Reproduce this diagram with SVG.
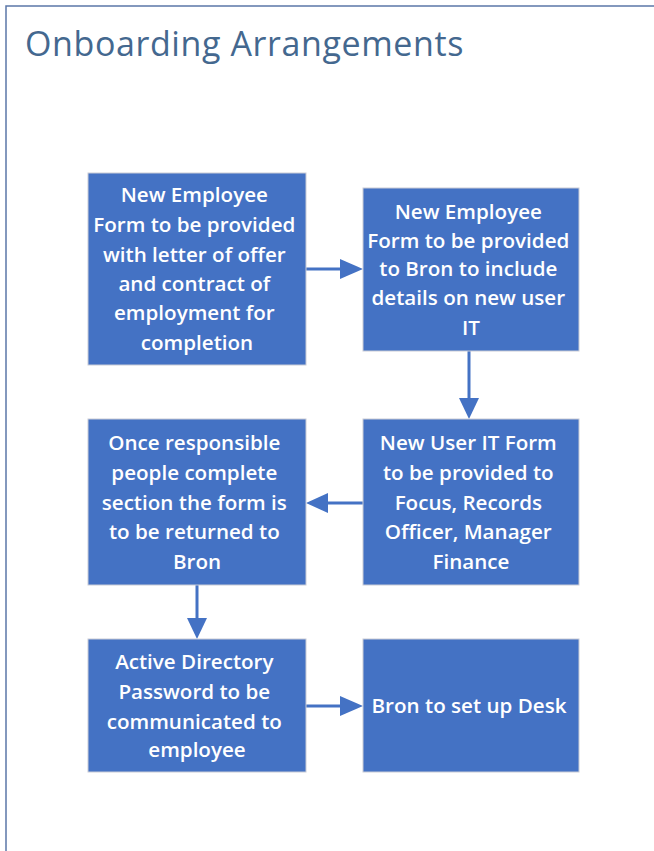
<svg xmlns="http://www.w3.org/2000/svg" width="654" height="851" viewBox="0 0 654 851">
  <style>
    .title { font-family: "Open Sans", "Liberation Sans", sans-serif; font-size: 34px; letter-spacing: 0.6px; fill: #44688f; }
    .box { fill: #4472c4; stroke: #c9ccd6; stroke-width: 1; }
    .lbl { font-family: "Open Sans", "Liberation Sans", sans-serif; font-size: 20.6px; font-weight: 600; fill: #ffffff; text-anchor: middle; }
    .wire { stroke: #4472c4; stroke-width: 3; fill: none; }
    .head { fill: #4472c4; }
  </style>

  <rect width="654" height="851" fill="#ffffff"/>
  <!-- outer frame -->
  <rect x="6" y="6" width="660" height="860" fill="none" stroke="#5b77a8" stroke-width="1.5"/>
  <text class="title" x="25" y="56">Onboarding Arrangements</text>

  <g id="connectors">
    <line class="wire" x1="306" y1="269" x2="342" y2="269"/>
    <polygon class="head" points="340,259 363,269 340,279"/>
    <line class="wire" x1="469" y1="351" x2="469" y2="400"/>
    <polygon class="head" points="459,398 479,398 469,419"/>
    <line class="wire" x1="363" y1="503" x2="326" y2="503"/>
    <polygon class="head" points="328,493 306,503 328,513"/>
    <line class="wire" x1="197" y1="585" x2="197" y2="620"/>
    <polygon class="head" points="187,618 207,618 197,639"/>
    <line class="wire" x1="306" y1="706" x2="342" y2="706"/>
    <polygon class="head" points="340,696 363,706 340,716"/>
  </g>

  <g id="n1">
    <rect class="box" x="88" y="173" width="218" height="192"/>
    <text class="lbl">
      <tspan x="197" y="202">New Employee</tspan>
      <tspan x="197" y="232">Form to be provided</tspan>
      <tspan x="197" y="262">with letter of offer</tspan>
      <tspan x="197" y="291">and contract of</tspan>
      <tspan x="197" y="320">employment for</tspan>
      <tspan x="197" y="350">completion</tspan>
    </text>
  </g>

  <g id="n2">
    <rect class="box" x="363" y="188" width="216" height="163"/>
    <text class="lbl">
      <tspan x="471" y="219">New Employee</tspan>
      <tspan x="471" y="248">Form to be provided</tspan>
      <tspan x="471" y="276">to Bron to include</tspan>
      <tspan x="471" y="305">details on new user</tspan>
      <tspan x="471" y="335">IT</tspan>
    </text>
  </g>

  <g id="n3">
    <rect class="box" x="363" y="419" width="216" height="166"/>
    <text class="lbl">
      <tspan x="471" y="450">New User IT Form</tspan>
      <tspan x="471" y="480">to be provided to</tspan>
      <tspan x="471" y="510">Focus, Records</tspan>
      <tspan x="471" y="539">Officer, Manager</tspan>
      <tspan x="471" y="569">Finance</tspan>
    </text>
  </g>

  <g id="n4">
    <rect class="box" x="88" y="419" width="218" height="166"/>
    <text class="lbl">
      <tspan x="197" y="450">Once responsible</tspan>
      <tspan x="197" y="480">people complete</tspan>
      <tspan x="197" y="510">section the form is</tspan>
      <tspan x="197" y="539">to be returned to</tspan>
      <tspan x="197" y="569">Bron</tspan>
    </text>
  </g>

  <g id="n5">
    <rect class="box" x="88" y="639" width="218" height="133"/>
    <text class="lbl">
      <tspan x="197" y="669">Active Directory</tspan>
      <tspan x="197" y="699">Password to be</tspan>
      <tspan x="197" y="729">communicated to</tspan>
      <tspan x="197" y="757">employee</tspan>
    </text>
  </g>

  <g id="n6">
    <rect class="box" x="363" y="639" width="216" height="133"/>
    <text class="lbl">
      <tspan x="469" y="713">Bron to set up Desk</tspan>
    </text>
  </g>
</svg>
